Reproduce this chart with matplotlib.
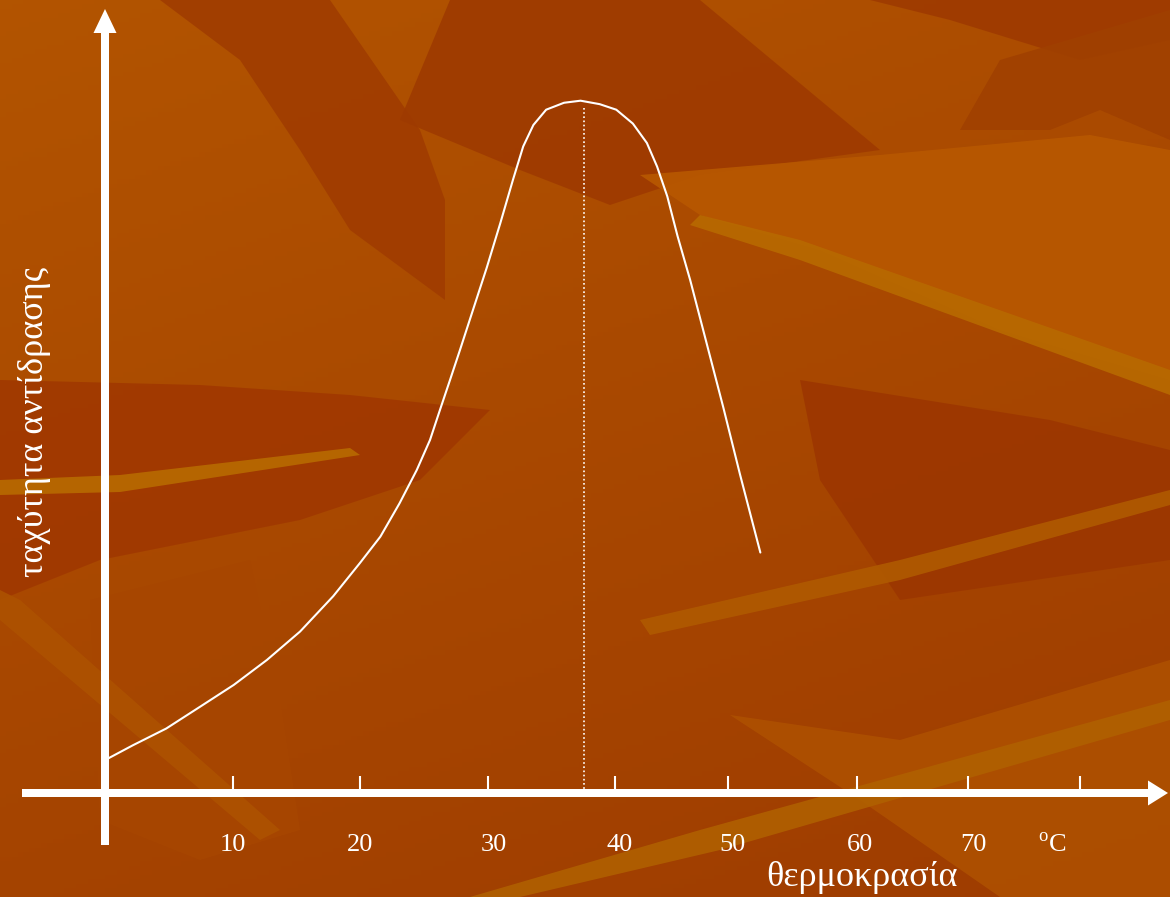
import matplotlib.pyplot as plt
import numpy as np
from matplotlib.patches import Polygon

plt.rcParams['font.family'] = ['Liberation Serif', 'DejaVu Serif']
plt.rcParams['mathtext.fontset'] = 'custom'
plt.rcParams['mathtext.rm'] = 'Liberation Serif'

# reaction rate vs temperature (rate in arbitrary units)
temperature = [0.26, 2.2, 4.8, 7.5, 10.1, 12.7, 15.3, 17.9, 20.0, 21.6, 23.1,
               24.45, 25.49, 26.27, 27.06, 27.84, 28.86, 29.94, 31.0, 32.0, 32.8,
               33.6, 34.6, 36.0, 37.3, 38.8, 40.1, 41.4, 42.5, 43.3, 44.1,
               44.9, 45.9, 47.2, 48.5, 49.8, 51.4]
rate = [5.0, 6.9, 9.3, 12.5, 15.6, 19.2, 23.3, 28.4, 33.2, 37.0, 41.8,
        46.6, 50.94, 55.27, 59.6, 63.92, 69.7, 75.8, 82.2, 88.5, 93.3,
        96.4, 98.6, 99.6, 99.9, 99.4, 98.6, 96.6, 93.8, 90.4, 86.1,
        80.4, 74.0, 64.8, 55.6, 46.0, 34.7]
optimum_temp = 37.6
optimum_rate = 98.8

tick_pos = [10, 20, 30, 40, 48.9, 59.0, 67.7, 76.5]
label_pos = [10.0, 20.0, 30.5, 40.4, 49.2, 59.2, 68.1]
tick_labels = ['10', '20', '30', '40', '50', '60', '70']
unit_pos = 74.3

# pixel <-> data mapping of the slide layout
SX, SY = 12.75, 6.93
X0, Y0 = 105, 793
W, H = 1170, 897


def tx(px):
    return (px - X0) / SX


def ty(py):
    return (Y0 - py) / SY


fig = plt.figure(figsize=(11.7, 8.97), dpi=100)

# ---- background (template texture) ----
bg = fig.add_axes([0, 0, 1, 1], zorder=0)
yy, xx = np.mgrid[0:1:200j, 0:1:200j]
top = np.array([0.70, 0.33, 0.0])
bottom = np.array([0.60, 0.21, 0.0])
mix = np.clip(0.55 * yy + 0.25 * xx, 0, 1)[..., None]
img = top * (1 - mix) + bottom * mix
bg.imshow(img, extent=[0, W, H, 0], aspect='auto')

shapes = [
    ('#A03C00', [(160, 0), (330, 0), (420, 130), (445, 200), (445, 300), (350, 230), (300, 150), (240, 60)]),
    ('#9E3A00', [(450, 0), (700, 0), (880, 150), (700, 175), (610, 205), (520, 170), (400, 120)]),
    ('#9E3A00', [(870, 0), (1170, 0), (1170, 40), (1080, 60), (950, 20)]),
    ('#A04000', [(960, 130), (1000, 60), (1170, 10), (1170, 140), (1100, 110), (1050, 130)]),
    ('#B85800', [(640, 175), (880, 155), (1090, 135), (1170, 150), (1170, 380), (1000, 330), (820, 250), (700, 215)]),
    ('#B86A00', [(700, 215), (800, 240), (1170, 370), (1170, 395), (800, 260), (690, 225)]),
    ('#9C3600', [(800, 380), (1050, 420), (1170, 450), (1170, 560), (900, 600), (820, 480)]),
    ('#A03800', [(0, 380), (200, 385), (350, 395), (490, 410), (420, 480), (300, 520), (100, 560), (0, 600)]),
    ('#B86A00', [(0, 480), (120, 475), (350, 448), (360, 455), (120, 492), (0, 495)]),
    ('#A74600', [(90, 600), (250, 560), (280, 700), (300, 830), (200, 860), (100, 820)]),
    ('#AD5200', [(0, 590), (20, 600), (280, 830), (260, 840), (0, 620)]),
    ('#B05A00', [(640, 620), (900, 560), (1170, 490), (1170, 505), (900, 580), (650, 635)]),
    ('#AE5000', [(730, 715), (900, 740), (1170, 660), (1170, 897), (1000, 897), (860, 800)]),
    ('#B06000', [(470, 897), (700, 830), (1170, 700), (1170, 720), (720, 850), (520, 897)]),
]
for color, pts in shapes:
    bg.add_patch(Polygon(pts, closed=True, facecolor=color, edgecolor='none', alpha=0.9))
bg.set_xlim(0, W)
bg.set_ylim(H, 0)
bg.axis('off')

# ---- chart ----
ax = fig.add_axes([0, 0, 1, 1], zorder=1)
ax.patch.set_alpha(0)
ax.set_xlim(tx(0), tx(W))
ax.set_ylim(ty(H), ty(0))
ax.axis('off')

# axes arrows
ax.arrow(tx(22), 0, tx(1168) - tx(22), 0, width=8 / SY, head_width=25 / SY,
         head_length=20 / SX, length_includes_head=True, color='white', lw=0)
ax.arrow(0, ty(845), 0, ty(9) - ty(845), width=8 / SX, head_width=23 / SX,
         head_length=24 / SY, length_includes_head=True, color='white', lw=0)

# ticks and labels
ax.vlines(tick_pos, 0, 17 / SY, color='white', lw=1.5)
for x, lab in zip(label_pos, tick_labels):
    ax.text(x, ty(845), lab, color='white', fontsize=19, ha='center', va='center')
ax.text(unit_pos, ty(845), r'$^{\rm o}$C', color='white', fontsize=19, ha='center', va='center')

ax.text(tx(862), ty(877), 'θερμοκρασία', color='white', fontsize=26, ha='center', va='center')
ax.text(tx(35), ty(422), 'ταχύτητα αντίδρασης', color='white', fontsize=26,
        rotation=90, ha='center', va='center')

# rate curve and optimum
ax.plot(temperature, rate, color='white', lw=1.5, solid_joinstyle='round', solid_capstyle='round')
ax.vlines(optimum_temp, 0, optimum_rate, color='white', lw=1.2, linestyles=(0, (1, 1.5)))

fig.savefig('out.png', dpi=100)
